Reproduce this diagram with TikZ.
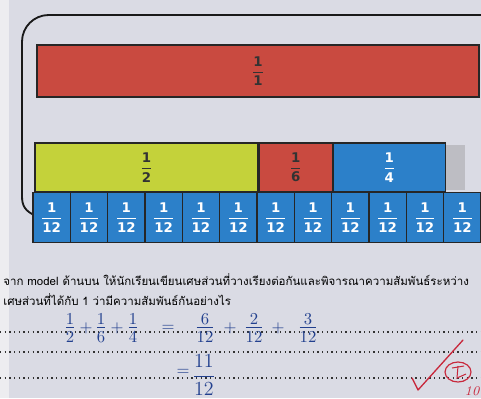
\documentclass[tikz,border=0pt]{standalone}
\usepackage{fontspec}
\usepackage{amsmath}
\setsansfont{DejaVu Sans}
\newfontfamily\thaifont[Script=Thai]{Loma}
\usetikzlibrary{positioning}
\definecolor{paperBg}{HTML}{DADBE4}
\definecolor{paperEdge}{HTML}{EDEDF0}
\definecolor{barRed}{HTML}{C94A40}
\definecolor{barLime}{HTML}{C4D23A}
\definecolor{barBlue}{HTML}{2C80C9}
\definecolor{barGray}{HTML}{BDBDC3}
\definecolor{inkBlue}{HTML}{22408E}
\definecolor{inkRed}{HTML}{C8283C}
\newcommand{\pu}{0.6pt}
\newcommand{\barfr}[2]{$\dfrac{\text{#1}}{\text{#2}}$}
\tikzset{
  fracbar/.style={rectangle,draw=black!85,line width=0.7pt,inner sep=0pt,
    font=\footnotesize\sffamily\bfseries,text=black!80},
  twelfth/.style={fracbar,fill=barBlue,text=white,
    minimum width=37.3*\pu,minimum height=50*\pu},
  frameline/.style={line width=1.1pt,black!90},
  dotline/.style={dotted,line width=0.8pt,black!80},
  thailine/.style={anchor=base west,inner sep=0pt,font=\thaifont\fontsize{6.9}{9}\selectfont},
  handmath/.style={inner sep=0pt,text=inkBlue,font=\Large},
  handsign/.style={inner sep=0pt,text=inkBlue,font=\normalsize}
}

\begin{document}
\begin{tikzpicture}[x=\pu,y=-\pu]
  % paper
  \fill[paperBg] (0,0) rectangle (481,398);
  \fill[paperEdge] (0,0) rectangle (9,398);
  \useasboundingbox (0,0) rectangle (481,398);
  % frame of the model
  \draw[frameline] (36,216) .. controls (25,211) and (22,206) .. (22,196)
    [rounded corners=16pt] -- (22,15) -- (481,15);
  % bars
  \node[fracbar, fill=barRed, minimum width=442*\pu, minimum height=52*\pu] (whole) at (258,71) {\barfr{1}{1}};
  \node[fracbar, fill=barLime, minimum width=223*\pu, minimum height=49*\pu] (half) at (146.5,167.5) {\barfr{1}{2}};
  \node[fracbar, fill=barRed, minimum width=73*\pu, minimum height=49*\pu, right=0pt of half] (sixth) {\barfr{1}{6}};
  \node[fracbar, fill=barBlue, text=white, minimum width=112*\pu, minimum height=49*\pu, right=0pt of sixth] (quarter) {\barfr{1}{4}};
  \node[rectangle, fill=barGray, minimum width=19*\pu, minimum height=45*\pu] (gap) at (455.5,167.5) {};
  \foreach \i in {1,...,12}
    \node[twelfth] (t\i) at ({33+37.33*(\i-0.5)},217.5) {\barfr{1}{12}};
  % question
  \node[thailine] (q1) at (3,285) {จาก model ด้านบน ให้นักเรียนเขียนเศษส่วนที่วางเรียงต่อกันและพิจารณาความสัมพันธ์ระหว่าง};
  \node[thailine] (q2) at (3,305) {เศษส่วนที่ได้กับ 1 ว่ามีความสัมพันธ์กันอย่างไร};
  % answer lines
  \draw[dotline] (0,332) -- (481,332);
  \draw[dotline] (0,352) -- (481,352);
  \draw[dotline] (0,378) -- (481,378);
  \foreach \xx/\tt [count=\k] in {70/$\tfrac{1}{2}$, 101/$\tfrac{1}{6}$, 133/$\tfrac{1}{4}$,
      205/$\tfrac{6}{12}$, 254/$\tfrac{2}{12}$, 308/$\tfrac{3}{12}$}
    \node[handmath] (a\k) at (\xx,328) {\tt};
  \foreach \xx/\tt [count=\k] in {86/$+$, 117/$+$, 168/$=$, 230/$+$, 278/$+$}
    \node[handsign] (s\k) at (\xx,328) {\tt};
  \node[handsign] (b1) at (183,372) {$=$};
  \node[handsign, font=\large] (b2) at (204,375) {$\dfrac{11}{\rule{0pt}{9pt}12}$};
  % teacher's mark
  \draw[inkRed, line width=0.8pt, line cap=round, line join=round]
    (412,378) -- (418,390) -- (463,340);
  \draw[inkRed, line width=0.7pt] (458,372) ellipse [x radius=13, y radius=10];
  \draw[inkRed, line width=0.6pt] (452,368) -- (464,366) (458,366) -- (457,378) -- (466,374);
  \node[inner sep=0pt, text=inkRed, font=\footnotesize\itshape] (score) at (472,391) {10};
\end{tikzpicture}
\end{document}
